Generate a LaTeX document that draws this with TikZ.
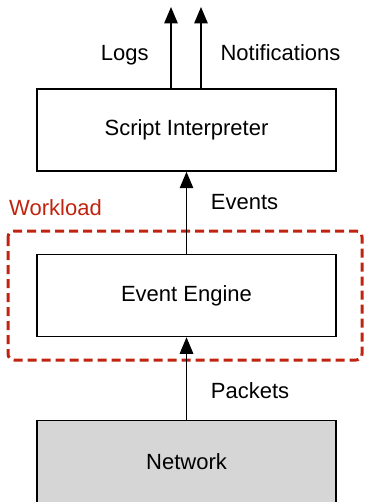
\documentclass[tikz,border=0pt]{standalone}
\usepackage{fontspec}
\setmainfont{Liberation Sans}
\usetikzlibrary{arrows.meta}
\definecolor{workred}{RGB}{192,36,16}
\definecolor{netgray}{RGB}{214,214,214}
\tikzset{
  layer/.style={draw=black, line width=1.5pt, minimum width=299pt, minimum height=82pt, inner sep=0pt, font=\fontsize{22}{26}\selectfont},
  lbl/.style={inner sep=0pt, text height=15.8pt, text depth=0pt, font=\fontsize{22}{26}\selectfont},
  flow/.style={line width=1.5pt, -{Triangle[width=13.5pt,length=16.5pt]}},
  groupbox/.style={draw=workred, line width=3pt, dash pattern=on 9pt off 5pt, rounded corners=6pt}
}
\begin{document}
\begin{tikzpicture}[x=1pt, y=-1pt]
  \useasboundingbox (0,0) rectangle (364,502);
  \clip (0,0) rectangle (364,502);

  % layers
  \node[layer] (si) at (186.5,130) {Script Interpreter};
  \node[layer] (ee) at (186.5,295.5) {Event Engine};
  \node[layer, fill=netgray] (net) at (186.5,461.5) {Network};

  % workload group
  \draw[groupbox] (8,231) rectangle (362,360);
  \node[lbl, text=workred] (wl) at (55.5,208) {Workload};

  % outputs of the interpreter
  \coordinate (logsEnd) at (171,7);
  \coordinate (notifEnd) at (201,7);
  \draw[flow] (si.north -| logsEnd) -- (logsEnd);
  \draw[flow] (si.north -| notifEnd) -- (notifEnd);

  % data flow between layers
  \draw[flow] (ee.north) -- (si.south);
  \draw[flow] (net.north) -- (ee.south);

  % flow labels
  \node[lbl] (logs) at (124.7,53) {Logs};
  \node[lbl] (notif) at (280.5,53) {Notifications};
  \node[lbl] (events) at (244.5,201.7) {Events};
  \node[lbl] (packets) at (250,391) {Packets};
\end{tikzpicture}
\end{document}
